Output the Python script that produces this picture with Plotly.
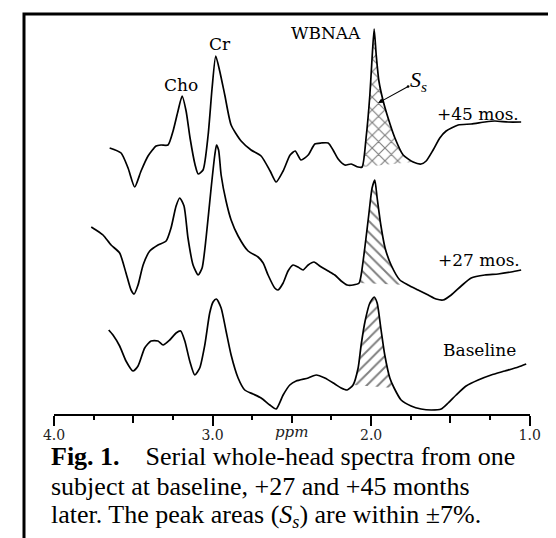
import plotly.graph_objects as go

W, H = 556, 538

# ---- data (ppm, intensity relative to each trace's own baseline) ----
top_ppm = [3.649, 3.577, 3.533, 3.491, 3.451, 3.407, 3.356, 3.325, 3.281, 3.249, 3.218, 3.192,
           3.167, 3.142, 3.110, 3.091, 3.060, 3.028, 3.003, 2.980, 2.955, 2.923, 2.883, 2.820,
           2.757, 2.694, 2.637, 2.599, 2.555, 2.511, 2.479, 2.442, 2.397, 2.355, 2.315, 2.271,
           2.240, 2.208, 2.166, 2.126, 2.082, 2.057, 2.032, 2.008, 1.994, 1.981, 1.968, 1.951,
           1.924, 1.893, 1.850, 1.798, 1.735, 1.685, 1.653, 1.609, 1.567, 1.527, 1.451, 1.369,
           1.283, 1.220, 1.136, 1.054]
top_int = [20, 15, 0, -19, -3, 12, 22, 23, 23, 37, 57, 72,
           57, 30, 3, -6, -2, 33, 80, 112, 97, 73, 43, 27,
           18, 12, -3, -14, -3, 13, 17, 8, 13, 24, 25, 25,
           18, 9, 3, 4, 1, 1, 30, 73, 110, 139, 113, 87,
           67, 50, 30, 13, 6, 4, 7, 18, 30, 37, 43, 44,
           46, 47, 46, 46]

mid_ppm = [3.765, 3.735, 3.691, 3.640, 3.586, 3.546, 3.514, 3.495, 3.470, 3.438, 3.396, 3.344,
           3.293, 3.262, 3.230, 3.207, 3.180, 3.155, 3.123, 3.091, 3.066, 3.041, 3.009, 2.986,
           2.975, 2.962, 2.946, 2.915, 2.883, 2.839, 2.776, 2.713, 2.681, 2.650, 2.608, 2.587,
           2.555, 2.524, 2.492, 2.461, 2.429, 2.397, 2.360, 2.324, 2.271, 2.229, 2.189, 2.151,
           2.114, 2.076, 2.063, 2.040, 2.015, 1.994, 1.977, 1.962, 1.939, 1.912, 1.874, 1.819,
           1.767, 1.704, 1.640, 1.590, 1.546, 1.495, 1.432, 1.369, 1.283, 1.199, 1.117, 1.054]
mid_int = [61, 58, 53, 43, 35, 15, -2, -6, 3, 23, 37, 43,
           47, 60, 82, 90, 82, 50, 23, 13, 20, 50, 100, 133,
           143, 138, 113, 87, 68, 52, 37, 31, 25, 13, 0, -2,
           5, 17, 23, 21, 18, 23, 26, 22, 17, 13, 7, 3,
           3, 5, 13, 40, 73, 100, 108, 90, 63, 40, 23, 8,
           3, -2, -7, -11, -12, -7, 2, 10, 13, 14, 16, 18]

base_ppm = [3.655, 3.628, 3.586, 3.546, 3.502, 3.470, 3.428, 3.388, 3.344, 3.312, 3.270, 3.230,
            3.201, 3.175, 3.144, 3.112, 3.081, 3.049, 3.018, 2.997, 2.976, 2.946, 2.915, 2.883,
            2.839, 2.797, 2.745, 2.694, 2.639, 2.599, 2.555, 2.513, 2.473, 2.397, 2.347, 2.292,
            2.229, 2.189, 2.151, 2.114, 2.082, 2.063, 2.038, 2.008, 1.981, 1.962, 1.939, 1.914,
            1.882, 1.855, 1.811, 1.748, 1.685, 1.621, 1.558, 1.514, 1.464, 1.401, 1.325, 1.243,
            1.157, 1.072, 1.022]
base_int = [58, 53, 42, 27, 17, 22, 40, 47, 47, 43, 48, 55,
            57, 47, 27, 13, 20, 43, 75, 86, 89, 80, 57, 33,
            10, -2, -6, -10, -17, -21, -7, 3, 7, 10, 13, 10,
            4, 0, -2, 3, 20, 43, 67, 85, 91, 85, 60, 33,
            10, 0, -12, -18, -21, -22, -21, -15, -7, 2, 8, 13,
            17, 21, 24]

series_labels = ["+45 mos.", "+27 mos.", "Baseline"]
naa_bounds = [(2.057, 1.735), (2.076, 1.767), (2.114, 1.855)]   # hatched WBNAA area S_s
peak_names = ["Cho", "Cr", "WBNAA"]

major_ticks = [4.0, 3.0, 2.0, 1.0]
major_labels = ["4.0", "3.0", "2.0", "1.0"]
half_ticks = [3.5, 2.5, 1.5]
quarter_ticks = [3.75, 3.25, 2.75, 2.25, 1.75, 1.25]
axis_unit = "ppm"

# ---- styling / layout (vertical offsets of the stacked traces in plot units) ----
offsets = [160, 280, 380]
patterns = ["x", "\\", "/"]
pattern_sizes = [9, 8, 8]
LBL_FONT = dict(family="DejaVu Serif", size=17, color="black")

fig = go.Figure()
series = [(top_ppm, top_int), (mid_ppm, mid_int), (base_ppm, base_int)]

for (xs, ys), off, (lo, hi), pat, psz in zip(series, offsets, naa_bounds, patterns, pattern_sizes):
    yy = [v - off for v in ys]
    sel = [(x, y) for x, y in zip(xs, yy) if hi - 1e-9 <= x <= lo + 1e-9]
    fig.add_trace(go.Scatter(
        x=[p[0] for p in sel], y=[p[1] for p in sel], mode="lines", fill="toself",
        line=dict(width=0, color="black"),
        fillcolor="rgba(255,255,255,0)",
        fillpattern=dict(shape=pat, size=psz, solidity=0.24, fgcolor="black",
                         bgcolor="rgba(255,255,255,0)"),
        hoverinfo="skip", cliponaxis=False))
    fig.add_trace(go.Scatter(x=xs, y=yy, mode="lines",
                             line=dict(color="black", width=1.7, shape="spline", smoothing=0.6),
                             hoverinfo="skip", cliponaxis=False))

fig.update_layout(
    width=W, height=H, margin=dict(l=0, r=0, t=0, b=0),
    paper_bgcolor="white", plot_bgcolor="rgba(0,0,0,0)", showlegend=False,
    xaxis=dict(domain=[46 / W, 521.7 / W], range=[4.0, 1.0], anchor="y",
               showline=True, linecolor="black", linewidth=2.3, showgrid=False, zeroline=False,
               tickmode="array", tickvals=major_ticks, ticktext=major_labels,
               ticks="outside", ticklen=10, tickwidth=2, tickcolor="black",
               ticklabelstandoff=-3,
               minor=dict(tickmode="array", tickvals=half_ticks, ticks="outside",
                          ticklen=7, tickwidth=2, tickcolor="black", showgrid=False),
               tickfont=dict(family="DejaVu Serif", size=14, color="#222"),
               automargin=False, fixedrange=True),
    xaxis2=dict(domain=[46 / W, 521.7 / W], range=[4.0, 1.0], anchor="y", overlaying="x",
                side="bottom", showline=False, showgrid=False, zeroline=False,
                tickmode="array", tickvals=quarter_ticks, showticklabels=False,
                ticks="outside", ticklen=5, tickwidth=2, tickcolor="black",
                automargin=False),
    yaxis=dict(domain=[(H - 406) / H, 1], range=[-406, 0], visible=False, fixedrange=True),
)
# invisible point so that the quarter-tick axis is drawn
fig.add_trace(go.Scatter(x=[2.5], y=[-1000], xaxis="x2", mode="markers",
                         marker=dict(opacity=0), hoverinfo="skip"))

# axis unit label
fig.add_annotation(x=2.5, xref="x", yref="paper", y=1 - 424 / H, text=f"<i>{axis_unit}</i>",
                   showarrow=False, font=dict(family="DejaVu Serif", size=15, color="#222"),
                   xanchor="center", yanchor="middle")

# border box
fig.add_shape(type="rect", xref="paper", yref="paper",
              x0=16 / W, x1=547 / W, y0=1 - 560 / H, y1=1 - 6 / H,
              line=dict(color="black", width=3))

# peak labels
fig.add_annotation(x=3.20, y=-77, text=peak_names[0], showarrow=False, font=LBL_FONT,
                   xanchor="center", yanchor="middle")
fig.add_annotation(x=2.955, y=-36, text=peak_names[1], showarrow=False, font=LBL_FONT,
                   xanchor="center", yanchor="middle")
fig.add_annotation(x=2.05, y=-25, text=peak_names[2], showarrow=False, font=LBL_FONT,
                   xanchor="right", yanchor="middle")

# series labels
for lab, yv, xv in zip(series_labels, [-106, -252, -342], [1.596, 1.59, 1.56]):
    fig.add_annotation(x=xv, y=yv, text=lab, showarrow=False, font=LBL_FONT,
                       xanchor="left", yanchor="middle")

# S_s label with arrow into the hatched area
fig.add_annotation(x=1.956, y=-95, ax=40, ay=-22, text="<i>S<sub>s</sub></i>", showarrow=True,
                   font=dict(family="Liberation Serif", size=22, color="black"),
                   arrowhead=2, arrowsize=0.9, arrowwidth=1.1, arrowcolor="black",
                   arrowside="end+start", startarrowhead=6, startarrowsize=0.6, standoff=0,
                   startstandoff=0)

# caption
CAP = dict(family="Liberation Serif", size=26, color="black")
cap_lines = ["<b>Fig. 1.</b>\u00a0\u00a0\u00a0\u00a0Serial whole-head spectra from one",
             "subject at baseline, +27 and +45 months",
             "later. The peak areas (<i>S<sub>s</sub></i>) are within \u00b17%."]
for txt, yp in zip(cap_lines, [448, 478, 508]):
    fig.add_annotation(xref="paper", yref="paper", x=41 / W, y=1 - yp / H, text=txt,
                       showarrow=False, font=CAP, xanchor="left", yanchor="middle", align="left")

fig.write_html("out.html")
